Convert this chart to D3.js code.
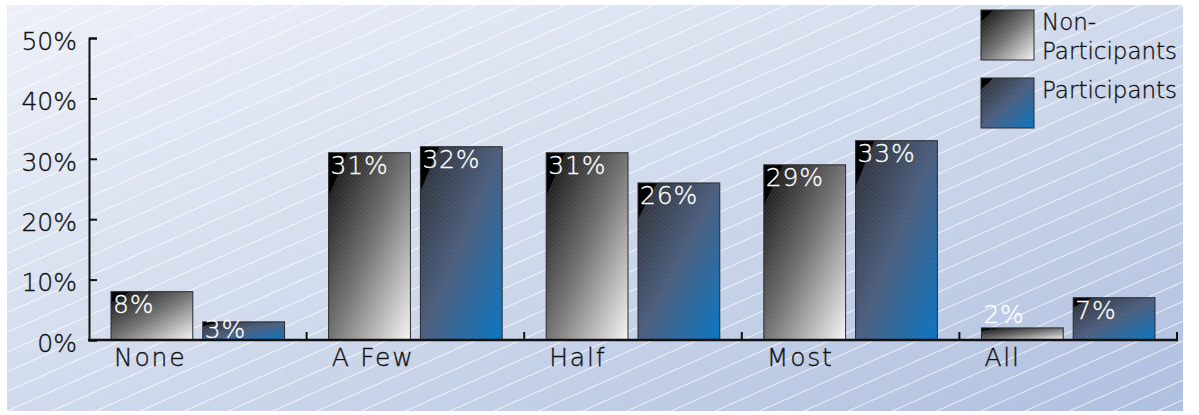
<!DOCTYPE html>
<html>
<head>
<meta charset="utf-8">
<script src="https://cdn.jsdelivr.net/npm/d3@7"></script>
<style>
  body { margin: 0; background: #ffffff; }
  svg { display: block; }
  text { font-family: "DejaVu Sans", "Verdana", sans-serif; font-weight: 200; fill: #111;
         stroke: #111; stroke-width: 0.35px; }
  text.value { fill: #ffffff; stroke: #ffffff; stroke-width: 0.3px; }
</style>
</head>
<body>
<svg id="chart" width="1199" height="415"></svg>
<script>
// ---- data ----
const categories = ["None", "A Few", "Half", "Most", "All"];
const seriesNames = ["Non-Participants", "Participants"];
const nonParticipants = [8, 31, 31, 29, 2];
const participants = [3, 32, 26, 33, 7];
const yTicks = [0, 10, 20, 30, 40, 50];
const legendLines = [["Non-", "Participants"], ["Participants"]];

const svg = d3.select("#chart");
const defs = svg.append("defs");

// ---- layout ----
const panel = { x: 7, y: 5, w: 1176, h: 406 };
const plot = { left: 89, right: 1177, top: 38, bottom: 340 };

const x = d3.scaleBand().domain(categories).range([plot.left, plot.right]).padding(0);
const xs = d3.scaleBand().domain(seriesNames).range([0, x.bandwidth()])
  .paddingInner(0.109).paddingOuter(0.24);
const y = d3.scaleLinear().domain([0, 50]).range([plot.bottom, plot.top]);

// ---- paint servers ----
const bgGrad = defs.append("linearGradient").attr("id", "bgGrad")
  .attr("x1", 0).attr("y1", 0).attr("x2", 1).attr("y2", 1);
[[0, "#edf0f8"], [0.45, "#d4ddee"], [1, "#afbfdf"]].forEach(([o, c]) =>
  bgGrad.append("stop").attr("offset", o).attr("stop-color", c));

const stripes = defs.append("pattern").attr("id", "bgStripes")
  .attr("patternUnits", "userSpaceOnUse").attr("width", 12).attr("height", 18)
  .attr("patternTransform", "rotate(-24)");
stripes.append("line").attr("x1", 0).attr("x2", 12).attr("y1", 0.5).attr("y2", 0.5)
  .attr("stroke", "#ffffff").attr("stroke-width", 1).attr("stroke-opacity", 0.7);

const fills = {
  "Non-Participants": [[0, "#000"], [0.11, "#000"], [0.12, "#1c1c1c"], [0.5, "#6e6e6e"], [1, "#f5f5f5"]],
  "Participants": [[0, "#000"], [0.11, "#000"], [0.12, "#2c323d"], [0.5, "#46597a"], [1, "#0070c0"]]
};
const fillId = { "Non-Participants": "gradNP", "Participants": "gradP" };
Object.entries(fills).forEach(([name, stops]) => {
  const g = defs.append("linearGradient").attr("id", fillId[name])
    .attr("x1", 0).attr("y1", 0).attr("x2", 1).attr("y2", 1);
  stops.forEach(([o, c]) => g.append("stop").attr("offset", o).attr("stop-color", c));
});

const hatch = defs.append("pattern").attr("id", "hatch")
  .attr("patternUnits", "userSpaceOnUse").attr("width", 6).attr("height", 2.5)
  .attr("patternTransform", "rotate(-55)");
hatch.append("line").attr("x1", 0).attr("x2", 6).attr("y1", 0.5).attr("y2", 0.5)
  .attr("stroke", "#ffffff").attr("stroke-width", 0.6).attr("stroke-opacity", 0.22);

// hatch stays off the solid black corner of each fill
const maskGrad = defs.append("linearGradient").attr("id", "maskGrad")
  .attr("x1", 0).attr("y1", 0).attr("x2", 1).attr("y2", 1);
[[0, "#000"], [0.11, "#000"], [0.12, "#fff"], [1, "#fff"]].forEach(([o, c]) =>
  maskGrad.append("stop").attr("offset", o).attr("stop-color", c));
defs.append("mask").attr("id", "hatchMask").attr("maskContentUnits", "objectBoundingBox")
  .append("rect").attr("width", 1).attr("height", 1).attr("fill", "url(#maskGrad)");

// ---- background ----
svg.append("rect").attr("x", panel.x).attr("y", panel.y).attr("width", panel.w).attr("height", panel.h)
  .attr("fill", "url(#bgGrad)");
svg.append("rect").attr("x", panel.x).attr("y", panel.y).attr("width", panel.w).attr("height", panel.h)
  .attr("fill", "url(#bgStripes)");

// ---- bars ----
const rows = categories.map((c, i) => ({ cat: c, values: [
  { series: seriesNames[0], value: nonParticipants[i] },
  { series: seriesNames[1], value: participants[i] }
]}));

function swatch(sel, name) {
  sel.append("rect").attr("class", "base").attr("fill", `url(#${fillId[name]})`);
  sel.append("rect").attr("class", "tex").attr("fill", "url(#hatch)").attr("mask", "url(#hatchMask)");
  sel.append("rect").attr("class", "edge").attr("fill", "none")
    .attr("stroke", "#2a2a2a").attr("stroke-width", 1);
}

const groups = svg.append("g").selectAll("g").data(rows).join("g")
  .attr("transform", d => `translate(${x(d.cat)},0)`);

const bars = groups.selectAll("g.bar").data(d => d.values).join("g").attr("class", "bar");
bars.each(function (d) {
  const g = d3.select(this);
  swatch(g, d.series);
  g.selectAll("rect")
    .attr("x", xs(d.series)).attr("width", xs.bandwidth())
    .attr("y", y(d.value)).attr("height", y(0) - y(d.value));
});

// value labels
bars.append("text").attr("class", "value")
  .attr("x", d => xs(d.series) + 2)
  .attr("y", d => {
    const top = y(d.value);
    if (y(0) - top < 15) return top - 5;
    return Math.min(top + 21, y(0) - 2);
  })
  .attr("font-size", 25).attr("letter-spacing", 0.8)
  .text(d => d.value + "%");

// ---- y axis ----
const yAxis = d3.axisLeft(y).tickValues(yTicks).tickFormat(d => d + "%")
  .tickSize(-8).tickSizeOuter(-8).tickPadding(12);
const yg = svg.append("g").attr("transform", `translate(${plot.left},0)`).call(yAxis);
yg.select(".domain").attr("stroke", "#111").attr("stroke-width", 2);
yg.selectAll(".tick line").attr("stroke", "#111").attr("stroke-width", 2);
yg.selectAll(".tick text").attr("font-size", 25).attr("font-family", null)
  .attr("fill", null).attr("dy", "0.45em");

// ---- x axis ----
const xg = svg.append("g");
xg.append("line").attr("x1", plot.left - 1).attr("x2", plot.right + 1)
  .attr("y1", y(0)).attr("y2", y(0)).attr("stroke", "#111").attr("stroke-width", 2.5);
xg.selectAll("line.sep").data(categories).join("line").attr("class", "sep")
  .attr("x1", d => x(d) + x.bandwidth()).attr("x2", d => x(d) + x.bandwidth())
  .attr("y1", y(0)).attr("y2", y(0) - 8).attr("stroke", "#111").attr("stroke-width", 2);
xg.selectAll("text").data(categories).join("text")
  .attr("x", d => x(d) + xs(seriesNames[0]) + 3)
  .attr("y", y(0) + 26)
  .attr("font-size", 25).attr("letter-spacing", 1.8)
  .text(d => d);

// ---- legend ----
const legend = svg.append("g").attr("transform", "translate(981,10)");
const items = legend.selectAll("g").data(seriesNames).join("g")
  .attr("transform", (d, i) => `translate(0,${i * 68})`);
items.each(function (d, i) {
  const g = d3.select(this);
  swatch(g, d);
  g.selectAll("rect").attr("x", 0).attr("y", 0).attr("width", 53).attr("height", 50);
  const t = g.append("text").attr("x", 61).attr("y", 20).attr("font-size", 23);
  legendLines[i].forEach((line, j) =>
    t.append("tspan").attr("x", 61).attr("dy", j === 0 ? 0 : 29).text(line));
});
</script>
</body>
</html>
